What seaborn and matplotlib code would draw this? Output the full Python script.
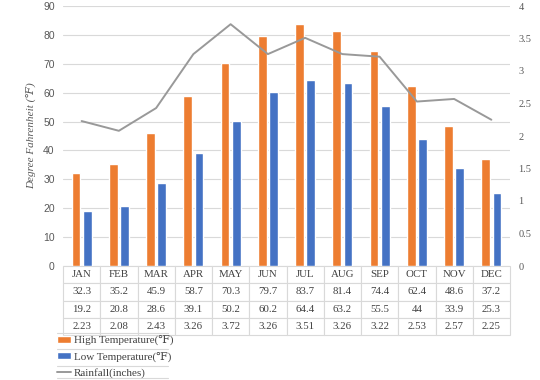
import matplotlib
matplotlib.use("Agg")
import matplotlib.pyplot as plt
from matplotlib.lines import Line2D
import numpy as np
import pandas as pd
import seaborn as sns

months = ["JAN", "FEB", "MAR", "APR", "MAY", "JUN",
          "JUL", "AUG", "SEP", "OCT", "NOV", "DEC"]
high_temp = [32.3, 35.2, 45.9, 58.7, 70.3, 79.7, 83.7, 81.4, 74.4, 62.4, 48.6, 37.2]
low_temp = [19.2, 20.8, 28.6, 39.1, 50.2, 60.2, 64.4, 63.2, 55.5, 44, 33.9, 25.3]
rainfall = [2.23, 2.08, 2.43, 3.26, 3.72, 3.26, 3.51, 3.26, 3.22, 2.53, 2.57, 2.25]

high_label = "High Temperature(℉)"
low_label = "Low Temperature(℉)"
rain_label = "Rainfall(inches)"
temp_ticks = list(range(0, 91, 10))
rain_ticks = [0, 0.5, 1, 1.5, 2, 2.5, 3, 3.5, 4]

ORANGE = "#ED7D31"
BLUE = "#4472C4"
GRAY_LINE = "#999999"
GRID = "#D9D9D9"
TEXT = "#404040"
SERIF = ["Liberation Serif", "DejaVu Serif"]
SANS = ["Liberation Sans", "DejaVu Sans"]

sns.set_theme(style="white")
plt.rcParams["font.family"] = SERIF

temps = pd.DataFrame({
    "month": months * 2,
    "value": high_temp + low_temp,
    "series": [high_label] * 12 + [low_label] * 12,
})
rain = pd.DataFrame({"month": months, "rain": rainfall})

fig = plt.figure(figsize=(5.4, 3.8), dpi=100)
ax = fig.add_axes([63 / 540, 1 - 266 / 380, (510 - 63) / 540, 260 / 380])

sns.barplot(data=temps, x="month", y="value", hue="series", order=months,
            palette=[ORANGE, BLUE], width=0.6, gap=0.22, saturation=1,
            ax=ax, errorbar=None)
ax.get_legend().remove()

ax.set_ylim(0, 90)
ax.set_yticks(temp_ticks)
ax.set_yticklabels([str(t) for t in temp_ticks], family=SANS, fontsize=7.5,
                   color="#595959")
ax.yaxis.grid(True, color=GRID, linewidth=0.8)
ax.set_axisbelow(True)
ax.set_xlabel("")
ax.set_ylabel("Degree Fahrenheit (℉)", fontstyle="italic", fontsize=8,
              color="#595959", labelpad=5)
ax.set_xticks(range(len(months)))
ax.set_xticklabels([])
ax.tick_params(axis="both", length=0, pad=6)
ax.set_xlim(-0.5, len(months) - 0.5)
for s in ax.spines.values():
    s.set_visible(False)

ax2 = ax.twinx()
sns.lineplot(data=rain, x="month", y="rain", color=GRAY_LINE, linewidth=1.4,
             ax=ax2, label=rain_label, sort=False)
ax2.get_legend().remove()
ax2.set_ylim(0, 4)
ax2.set_yticks(rain_ticks)
ax2.set_yticklabels([f"{t:g}" for t in rain_ticks], fontsize=7.5,
                    color="#595959")
ax2.set_ylabel("")
ax2.tick_params(axis="y", length=0, pad=6)
ax2.set_xlim(-0.5, len(months) - 0.5)
for s in ax2.spines.values():
    s.set_visible(False)

# data table under the plot
cell_text = [[f"{v:g}" for v in row] for row in (high_temp, low_temp, rainfall)]
tbl = ax.table(cellText=cell_text, colLabels=months, cellLoc="center",
               bbox=[0, -69 / 260, 1, 69 / 260])
tbl.auto_set_font_size(False)
for (r, c), cell in tbl.get_celld().items():
    cell.set_edgecolor(GRID)
    cell.set_linewidth(0.8)
    cell.set_facecolor("white")
    cell.get_text().set_fontsize(7.8)
    cell.get_text().set_color(TEXT)
    cell.get_text().set_fontfamily(SERIF)

# legend below the table
bar_handles, bar_labels = ax.get_legend_handles_labels()
line_handles, line_labels = ax2.get_legend_handles_labels()
if not line_handles:
    line_handles = [Line2D([], [], color=GRAY_LINE, linewidth=1.4)]
    line_labels = [rain_label]
leg = fig.legend(bar_handles + line_handles, bar_labels + line_labels,
                 loc="upper left", bbox_to_anchor=(57 / 540, 1 - 335 / 380),
                 frameon=False, fontsize=8, labelcolor=TEXT,
                 handlelength=1.3, handleheight=0.6, handletextpad=0.2,
                 labelspacing=0.55, borderpad=0, borderaxespad=0)

for yp in (333, 349, 366, 378):
    fig.add_artist(Line2D([57 / 540, 168 / 540], [1 - yp / 380, 1 - yp / 380],
                          color=GRID, linewidth=0.8, transform=fig.transFigure))

fig.savefig("out.png", dpi=100)
